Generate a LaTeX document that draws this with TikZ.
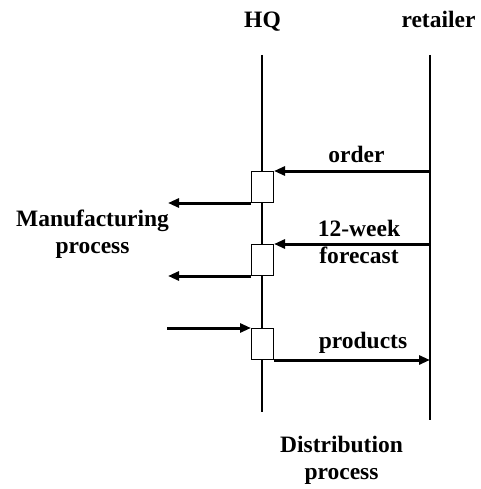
\documentclass[tikz,border=0pt]{standalone}
\usepackage{fontspec}
\setmainfont{Liberation Serif}
\usetikzlibrary{arrows.meta}
\tikzset{lifeline/.style={line width=2pt}}
\tikzset{activity/.style={rectangle, draw, fill=white, line width=1pt, minimum width=22pt, minimum height=31pt, inner sep=0pt}}
\tikzset{msg/.style={-{Triangle[length=11pt,width=9pt]}, line width=3pt}}
\tikzset{lbl/.style={font=\fontsize{23.5}{27}\selectfont\bfseries, align=center, inner sep=0pt}}

\begin{document}
\begin{tikzpicture}[x=1pt,y=-1pt]
    \useasboundingbox (0,0) rectangle (480,489);

    \node[lbl,anchor=base] (hq) at (262.5,28) {HQ};
    \node[lbl,anchor=base] (retailer) at (438.5,28) {retailer};

    \coordinate (hqtop) at (262,55);
    \coordinate (hqbot) at (262,412);
    \coordinate (rtop) at (430,55);
    \coordinate (rbot) at (430,420);
    \draw[lifeline] (hqtop) -- (hqbot);
    \draw[lifeline] (rtop) -- (rbot);

    \node[activity] (box1) at (262.5,187) {};
    \node[activity] (box2) at (262.5,260) {};
    \node[activity] (box3) at (262.5,344) {};

    \coordinate (mfg1) at (168,202);
    \coordinate (mfg2) at (168,276);
    \coordinate (mfg3) at (167,329);

    \draw[msg] (rtop |- box1.north east) -- (box1.north east);
    \draw[msg] (rtop |- box2.north east) -- (box2.north east);
    \draw[msg] (box1.south west) -- (mfg1 |- box1.south west);
    \draw[msg] (box2.south west) -- (mfg2 |- box2.south west);
    \draw[msg] (mfg3 |- box3.north west) -- (box3.north west);
    \draw[msg] (box3.south east) -- (rtop |- box3.south east);

    \node[lbl,anchor=base] (order) at (356.5,162) {order};
    \node[lbl] (forecast) at (359,242) {12-week\\forecast};
    \node[lbl,anchor=base] (products) at (363,348) {products};
    \node[lbl] (manufacturing) at (92.5,234) {Manufacturing\\process};
    \node[lbl] (distribution) at (341.5,460) {Distribution\\process};
\end{tikzpicture}
\end{document}
